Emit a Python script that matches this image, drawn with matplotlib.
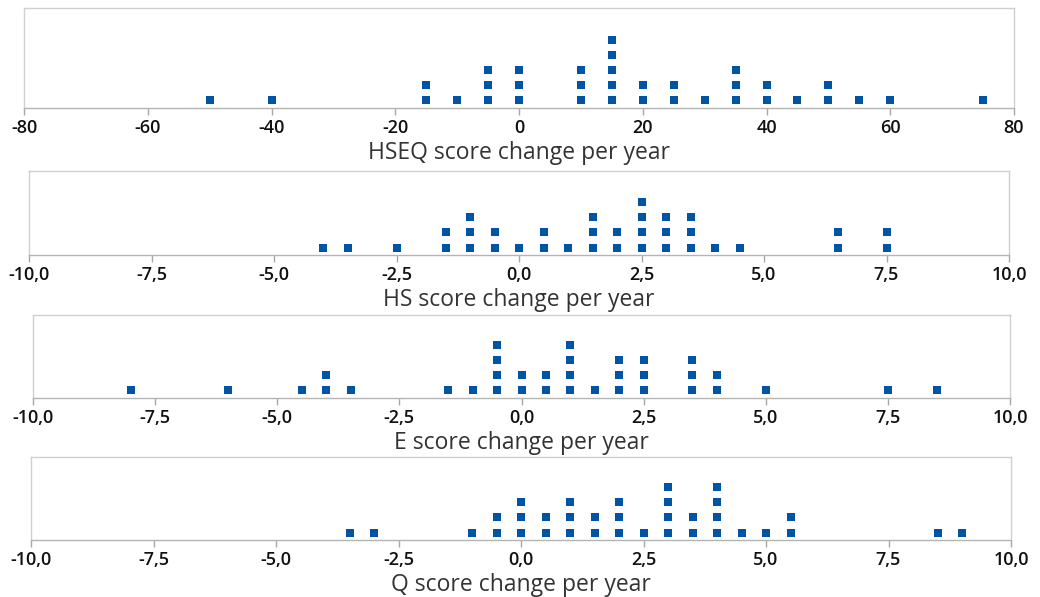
import numpy as np
import matplotlib
matplotlib.use('Agg')
import matplotlib.pyplot as plt

# values and how many dots stack at each value
hseq_x = [-50, -40, -15, -10, -5, 0, 10, 15, 20, 25, 30, 35, 40, 45, 50, 55, 60, 75]
hseq_n = [1, 1, 2, 1, 3, 3, 3, 5, 2, 2, 1, 3, 2, 1, 2, 1, 1, 1]

hs_x = [-4, -3.5, -2.5, -1.5, -1, -0.5, 0, 0.5, 1, 1.5, 2, 2.5, 3, 3.5, 4, 4.5, 6.5, 7.5]
hs_n = [1, 1, 1, 2, 3, 2, 1, 2, 1, 3, 2, 4, 3, 3, 1, 1, 2, 2]

e_x = [-8, -6, -4.5, -4, -3.5, -1.5, -1, -0.5, 0, 0.5, 1, 1.5, 2, 2.5, 3.5, 4, 5, 7.5, 8.5]
e_n = [1, 1, 1, 2, 1, 1, 1, 4, 2, 2, 4, 1, 3, 3, 3, 2, 1, 1, 1]

q_x = [-3.5, -3, -1, -0.5, 0, 0.5, 1, 1.5, 2, 2.5, 3, 3.5, 4, 4.5, 5, 5.5, 8.5, 9]
q_n = [1, 1, 1, 2, 3, 2, 3, 2, 3, 1, 4, 2, 4, 1, 1, 2, 1, 1]

labels = ['HSEQ score change per year', 'HS score change per year',
          'E score change per year', 'Q score change per year']
wide_ticks = [-80, -60, -40, -20, 0, 20, 40, 60, 80]
narrow_ticks = [-10, -7.5, -5, -2.5, 0, 2.5, 5, 7.5, 10]

W, H = 1040, 597
# panel boxes in pixels: left, right, top, bottom
boxes = [(24, 1014, 8, 108), (29, 1009, 171, 255), (33, 1010, 315, 398), (31, 1011, 457, 540)]

plt.rcParams['font.family'] = ['Open Sans', 'DejaVu Sans']
fig = plt.figure(figsize=(W / 100, H / 100), dpi=100)

series = [(hseq_x, hseq_n, wide_ticks), (hs_x, hs_n, narrow_ticks),
          (e_x, e_n, narrow_ticks), (q_x, q_n, narrow_ticks)]

for (xs, ns, ticks), lab, (l, r, t, b) in zip(series, labels, boxes):
    ax = fig.add_axes([l / W, 1 - b / H, (r - l) / W, (b - t) / H])
    px, py = [], []
    for x, n in zip(xs, ns):
        for k in range(1, n + 1):
            px.append(x)
            py.append(k)
    ax.plot(px, py, 's', color='#0054A6', markersize=5.4, markeredgewidth=0)
    ax.set_xlim(ticks[0], ticks[-1])
    step = 15.2  # pixels per stacked dot
    y0 = 1 - 7.5 / step
    ax.set_ylim(y0, y0 + (b - t) / step)
    ax.set_yticks([])
    ax.set_xticks(ticks)
    if ticks is wide_ticks:
        ax.set_xticklabels([str(v) for v in ticks])
    else:
        ax.set_xticklabels([f'{v:.1f}'.replace('.', ',') for v in ticks])
    for s in ax.spines.values():
        s.set_color('#d0d0d0')
        s.set_linewidth(1.0)
    ax.spines['bottom'].set_color('#b4b4b4')
    ax.tick_params(axis='x', length=5, width=1, color='#a8a8a8', pad=3,
                   labelsize=13, labelcolor='#111111')
    for tl in ax.get_xticklabels():
        tl.set_fontweight('semibold')
    ax.set_xlabel(lab, fontsize=16.5, color='#333333', labelpad=3)

fig.savefig('out.png', dpi=100)
